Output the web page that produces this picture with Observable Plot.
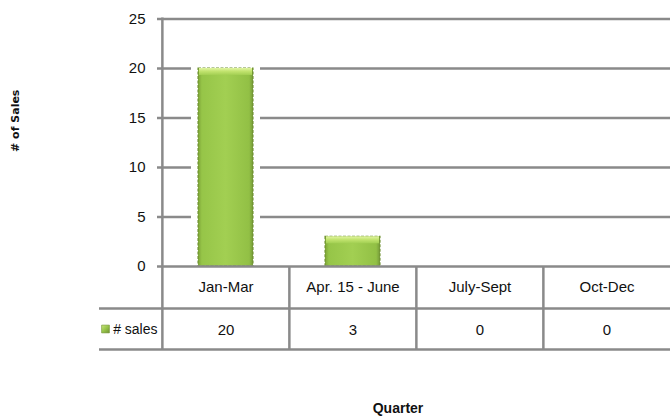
<!DOCTYPE html>
<html>
<head>
<meta charset="utf-8">
<script src="https://cdn.jsdelivr.net/npm/d3@7"></script>
<script src="https://cdn.jsdelivr.net/npm/@observablehq/plot@0.6"></script>
<style>
  html, body { margin: 0; padding: 0; background: #fff; }
  #chart svg { display: block; }
</style>
</head>
<body>
<div id="chart"></div>
<script>
// ---- data ----
const categories = ["Jan-Mar", "Apr. 15 - June", "July-Sept", "Oct-Dec"];
const sales = [20, 3, 0, 0];
const seriesName = "# sales";
const yTicks = [0, 5, 10, 15, 20, 25];
const yTitle = "# of Sales";
const xTitle = "Quarter";

const data = categories.map((c, i) => ({category: c, value: sales[i]}));
const nonZero = data.filter(d => d.value > 0);

// ---- layout ----
const W = 670, H = 420;
const mL = 161, mR = 0, mT = 18.5, mB = 154;
const step = (W - mL - mR) / categories.length;
const row1 = 42, row2 = 83;
const gridColor = "#8a8a8a";
const lineW = 2.5;
const font = "'Liberation Sans', Arial, sans-serif";

const defs = () => {
  const d = d3.create("svg:defs");
  const body = d.append("linearGradient").attr("id", "barBody")
    .attr("x1", 0).attr("x2", 1).attr("y1", 0).attr("y2", 0);
  [[0, "#7da437"], [0.07, "#96c548"], [0.5, "#a2cf52"], [0.93, "#92c045"], [1, "#75993a"]]
    .forEach(([o, c]) => body.append("stop").attr("offset", o).attr("stop-color", c));
  const top = d.append("linearGradient").attr("id", "barTop")
    .attr("x1", 0).attr("x2", 0).attr("y1", 0).attr("y2", 1);
  [[0, "#e2f5a4"], [0.45, "#c3e470"], [1, "#a2cf52"]]
    .forEach(([o, c]) => top.append("stop").attr("offset", o).attr("stop-color", c));
  const key = d.append("linearGradient").attr("id", "keyFill")
    .attr("x1", 0).attr("x2", 1).attr("y1", 0).attr("y2", 1);
  [[0, "#c9e77c"], [0.5, "#97c44a"], [1, "#6f9330"]]
    .forEach(([o, c]) => key.append("stop").attr("offset", o).attr("stop-color", c));
  return d.node();
};

const cellText = {fill: "#111", fontSize: 15, lineAnchor: "middle", frameAnchor: "bottom"};

const chart = Plot.plot({
  width: W,
  height: H,
  marginLeft: mL,
  marginRight: mR,
  marginTop: mT,
  marginBottom: mB,
  style: {fontFamily: font, fontSize: "15px", color: "#111", background: "#fff", overflow: "visible"},
  x: {domain: categories, paddingInner: 0.57, paddingOuter: 0.285, axis: null},
  y: {domain: [0, 25], axis: null},
  marks: [
    defs,
    // gridlines with outer ticks
    Plot.ruleY(yTicks.filter(t => t > 0), {stroke: gridColor, strokeWidth: lineW, insetLeft: -4}),
    // white halo behind bars
    Plot.rectY(nonZero, {x: "category", y: "value", fill: "#fff", insetLeft: -7, insetRight: -7, insetTop: -4}),
    // bars
    Plot.rectY(nonZero, {x: "category", y: "value", fill: "url(#barBody)", stroke: "#6e9130",
      strokeWidth: 1.1, strokeDasharray: "3 1.5"}),
    // top bevel
    Plot.rectY(nonZero, {x: "category", y1: "value", y2: "value", insetBottom: -7, insetLeft: 1, insetRight: 1,
      fill: "url(#barTop)"}),
    // zero line / table top
    Plot.ruleY([0], {stroke: gridColor, strokeWidth: lineW, insetLeft: -4}),
    // table horizontal lines
    Plot.ruleY([0], {dy: row1, stroke: gridColor, strokeWidth: lineW, insetLeft: -62}),
    Plot.ruleY([0], {dy: row2, stroke: gridColor, strokeWidth: lineW, insetLeft: -62}),
    // vertical axis line (continues through table)
    Plot.ruleX([categories[0]], {dx: -step / 2, y1: 25, y2: 0, insetTop: -1, insetBottom: -row2 - 1,
      stroke: gridColor, strokeWidth: lineW}),
    // table vertical lines
    Plot.ruleX(categories.slice(1), {dx: -step / 2, y1: 0, y2: 0, insetBottom: -row2 - 1,
      stroke: gridColor, strokeWidth: lineW}),
    // y tick labels
    Plot.axisY({ticks: yTicks, tickSize: 0, tickPadding: 16, label: null, fontSize: 15, fill: "#111"}),
    // table: category labels
    Plot.text(data, {...cellText, x: "category", text: "category", dy: row1 / 2}),
    // table: values
    Plot.text(data, {...cellText, x: "category", text: d => String(d.value), dy: (row1 + row2) / 2 + 1}),
    // legend key + series name
    Plot.dot([seriesName], {frameAnchor: "bottom-left", dx: -56, dy: (row1 + row2) / 2, symbol: "square",
      r: 4.4, fill: "url(#keyFill)", stroke: "#6e9130", strokeWidth: 0.6}),
    Plot.text([seriesName], {...cellText, frameAnchor: "bottom-left", text: d => d, textAnchor: "end", dx: -4,
      dy: (row1 + row2) / 2 + 1, fontSize: 14}),
    // axis titles
    Plot.text([yTitle], {frameAnchor: "left", text: d => d, rotate: -90, textAnchor: "middle", lineAnchor: "middle",
      dx: -146, dy: -22,
      fontFamily: "'DejaVu Sans', Verdana, sans-serif", fontWeight: "bold", fontSize: 11, fill: "#111"}),
    Plot.text([xTitle], {frameAnchor: "bottom", text: d => d, textAnchor: "middle", lineAnchor: "middle",
      dx: -18, dy: 142, fontWeight: "bold", fontSize: 14, fill: "#111"})
  ]
});

document.getElementById("chart").appendChild(chart);
</script>
</body>
</html>
